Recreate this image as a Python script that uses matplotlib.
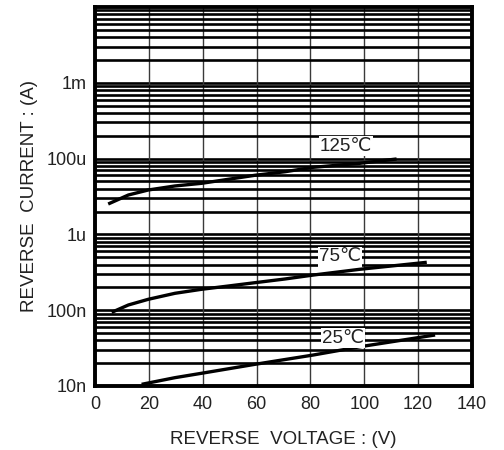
import numpy as np
import matplotlib
matplotlib.use("Agg")
import matplotlib.pyplot as plt
from matplotlib.ticker import FixedLocator, FixedFormatter, LogLocator, NullFormatter

plt.rcParams['font.family'] = ['Liberation Sans', 'DejaVu Sans']

# ---- data (current in A on the plotted log scale) ----
v_125 = [4.9, 12.4, 19.8, 29.7, 39.6, 49.5, 59.4, 70.6, 81.0, 98.4, 112.0]
i_125 = [10**-5.599, 10**-5.480, 10**-5.414, 10**-5.361, 10**-5.326, 10**-5.273,
         10**-5.220, 10**-5.173, 10**-5.115, 10**-5.062, 10**-5.005]

v_75 = [6.2, 12.4, 19.8, 29.7, 39.6, 49.5, 59.4, 70.6, 81.1, 98.4, 123.2]
i_75 = [10**-7.028, 10**-6.931, 10**-6.856, 10**-6.777, 10**-6.724, 10**-6.681,
        10**-6.637, 10**-6.588, 10**-6.536, 10**-6.460, 10**-6.368]

v_25 = [17.3, 29.7, 39.6, 59.4, 81.1, 98.4, 126.3]
i_25 = [10**-7.978, 10**-7.890, 10**-7.832, 10**-7.714, 10**-7.591, 10**-7.482, 10**-7.327]

curve_labels = ["125\u2103", "75\u2103", "25\u2103"]
label_x = [93.2, 91.0, 92.1]
label_y = [10**-4.834, 10**-6.298, 10**-7.367]

x_ticks = [0, 20, 40, 60, 80, 100, 120, 140]
y_tick_values = [1e-8, 1e-7, 1e-6, 1e-5, 1e-4]
y_tick_labels = ["10n", "100n", "1u", "100u", "1m"]

fig = plt.figure(figsize=(5.04, 4.5), dpi=100)
ax = fig.add_axes([95/504, 64/450, 377/504, 379/450])

ax.set_yscale('log')
ax.set_xlim(0, 140)
ax.set_ylim(1e-8, 1e-3)

ax.set_xticks(x_ticks)
ax.yaxis.set_major_locator(FixedLocator(y_tick_values))
ax.yaxis.set_major_formatter(FixedFormatter(y_tick_labels))
ax.yaxis.set_minor_locator(LogLocator(base=10, subs=np.arange(2, 10), numticks=20))
ax.yaxis.set_minor_formatter(NullFormatter())

# horizontal grid (major + minor)
for yv in [1e-7, 1e-6, 1e-5, 1e-4]:
    ax.axhline(yv, color='black', lw=1.9, zorder=1)
ax.yaxis.grid(True, which='minor', color='black', lw=1.9, zorder=1)
# vertical grid
ax.xaxis.grid(True, which='major', color='#3a3a3a', lw=1.0, zorder=1)

ax.tick_params(axis='both', which='both', length=0, labelsize=13, colors='#222222')
ax.tick_params(axis='x', pad=7)
ax.tick_params(axis='y', pad=6)

for sp in ax.spines.values():
    sp.set_linewidth(2.8)
    sp.set_color('black')
    sp.set_zorder(5)

ax.plot(v_125, i_125, color='black', lw=2.4, zorder=3, solid_capstyle='butt')
ax.plot(v_75, i_75, color='black', lw=2.4, zorder=3, solid_capstyle='butt')
ax.plot(v_25, i_25, color='black', lw=2.4, zorder=3, solid_capstyle='butt')

for t, x, y in zip(curve_labels, label_x, label_y):
    ax.text(x, y, t, ha='center', va='center', fontsize=13.5, color='#222222', zorder=4,
            bbox=dict(facecolor='white', edgecolor='none', pad=0.8))

ax.set_xlabel("REVERSE  VOLTAGE : (V)", fontsize=13.5, color='#222222', labelpad=13)
ax.set_ylabel("REVERSE  CURRENT : (A)", fontsize=13.5, color='#222222', labelpad=6)

fig.savefig("out.png", dpi=100)
